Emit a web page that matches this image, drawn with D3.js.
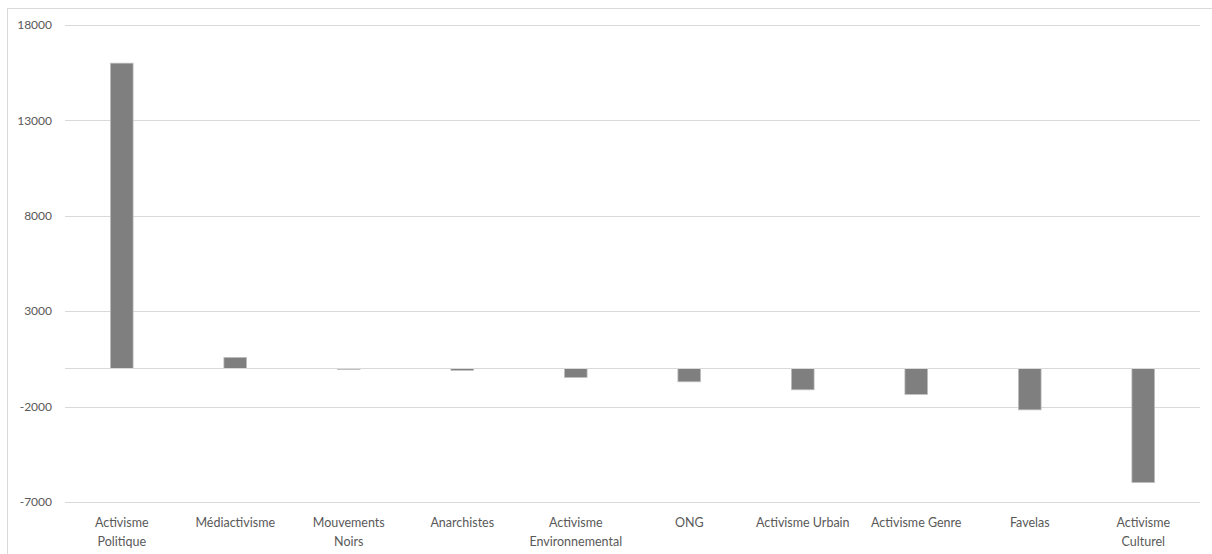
<!DOCTYPE html>
<html>
<head>
<meta charset="utf-8">
<style>
  body { margin: 0; background: #fff; }
  text { font-family: Lato, "Open Sans", sans-serif; fill: #595959; }
</style>
</head>
<body>
<div class="start"></div>
<script src="https://cdnjs.cloudflare.com/ajax/libs/d3/7.8.5/d3.min.js"></script>
<script>
var categories = ["Activisme Politique", "Médiactivisme", "Mouvements Noirs", "Anarchistes",
  "Activisme Environnemental", "ONG", "Activisme Urbain", "Activisme Genre", "Favelas", "Activisme Culturel"];
var labelLines = [["Activisme", "Politique"], ["Médiactivisme"], ["Mouvements", "Noirs"], ["Anarchistes"],
  ["Activisme", "Environnemental"], ["ONG"], ["Activisme Urbain"], ["Activisme Genre"], ["Favelas"], ["Activisme", "Culturel"]];
var values = [16000, 580, -40, -100, -470, -700, -1120, -1360, -2170, -5980];
var yTicks = [-7000, -2000, 3000, 8000, 13000, 18000];

var width = 1212, height = 554;

var svg = d3.select('.start')
  .append('svg')
  .attr('width', width)
  .attr('height', height);

// chart frame
svg.append('rect')
  .attr('x', 7.5).attr('y', 8.5)
  .attr('width', width).attr('height', height)
  .attr('fill', 'none')
  .attr('stroke', '#d9d9d9');

var x = d3.scaleBand().domain(categories).range([65, 1200]);
var y = d3.scaleLinear().domain([-7000, 18000]).range([502, 25]);

// gridlines
svg.append('g')
  .selectAll('line')
  .data(yTicks)
  .enter().append('line')
  .attr('x1', 65).attr('x2', 1200)
  .attr('y1', function(d) { return Math.round(y(d)) + 0.5; })
  .attr('y2', function(d) { return Math.round(y(d)) + 0.5; })
  .attr('stroke', '#d9d9d9');

// y labels
svg.append('g')
  .selectAll('text')
  .data(yTicks)
  .enter().append('text')
  .attr('x', 52)
  .attr('y', function(d) { return y(d); })
  .attr('dy', '0.35em')
  .attr('text-anchor', 'end')
  .style('font-size', '12px')
  .text(function(d) { return d; });

// bars
var bw = x.bandwidth() * 0.2;
svg.append('g')
  .selectAll('rect')
  .data(values)
  .enter().append('rect')
  .attr('x', function(d, i) { return x(categories[i]) + (x.bandwidth() - bw) / 2; })
  .attr('y', function(d) { return y(Math.max(0, d)); })
  .attr('width', bw)
  .attr('height', function(d) { return Math.max(1, Math.abs(y(d) - y(0))); })
  .attr('fill', '#7f7f7f')
  .attr('stroke', '#bfbfbf')
  .attr('stroke-width', 0.75);

// zero axis line
svg.append('line')
  .attr('x1', 65).attr('x2', 1200)
  .attr('y1', Math.round(y(0)) + 0.5).attr('y2', Math.round(y(0)) + 0.5)
  .attr('stroke', '#d9d9d9');

// category labels
var lab = svg.append('g')
  .selectAll('text')
  .data(labelLines)
  .enter().append('text')
  .attr('text-anchor', 'middle')
  .style('font-size', '12.5px')
  .attr('x', function(d, i) { return x(categories[i]) + x.bandwidth() / 2; })
  .attr('y', 527);

lab.selectAll('tspan')
  .data(function(d) { return d; })
  .enter().append('tspan')
  .attr('x', function() { return d3.select(this.parentNode).attr('x'); })
  .attr('dy', function(d, i) { return i === 0 ? 0 : 18.5; })
  .text(function(d) { return d; });
</script>
</body>
</html>
